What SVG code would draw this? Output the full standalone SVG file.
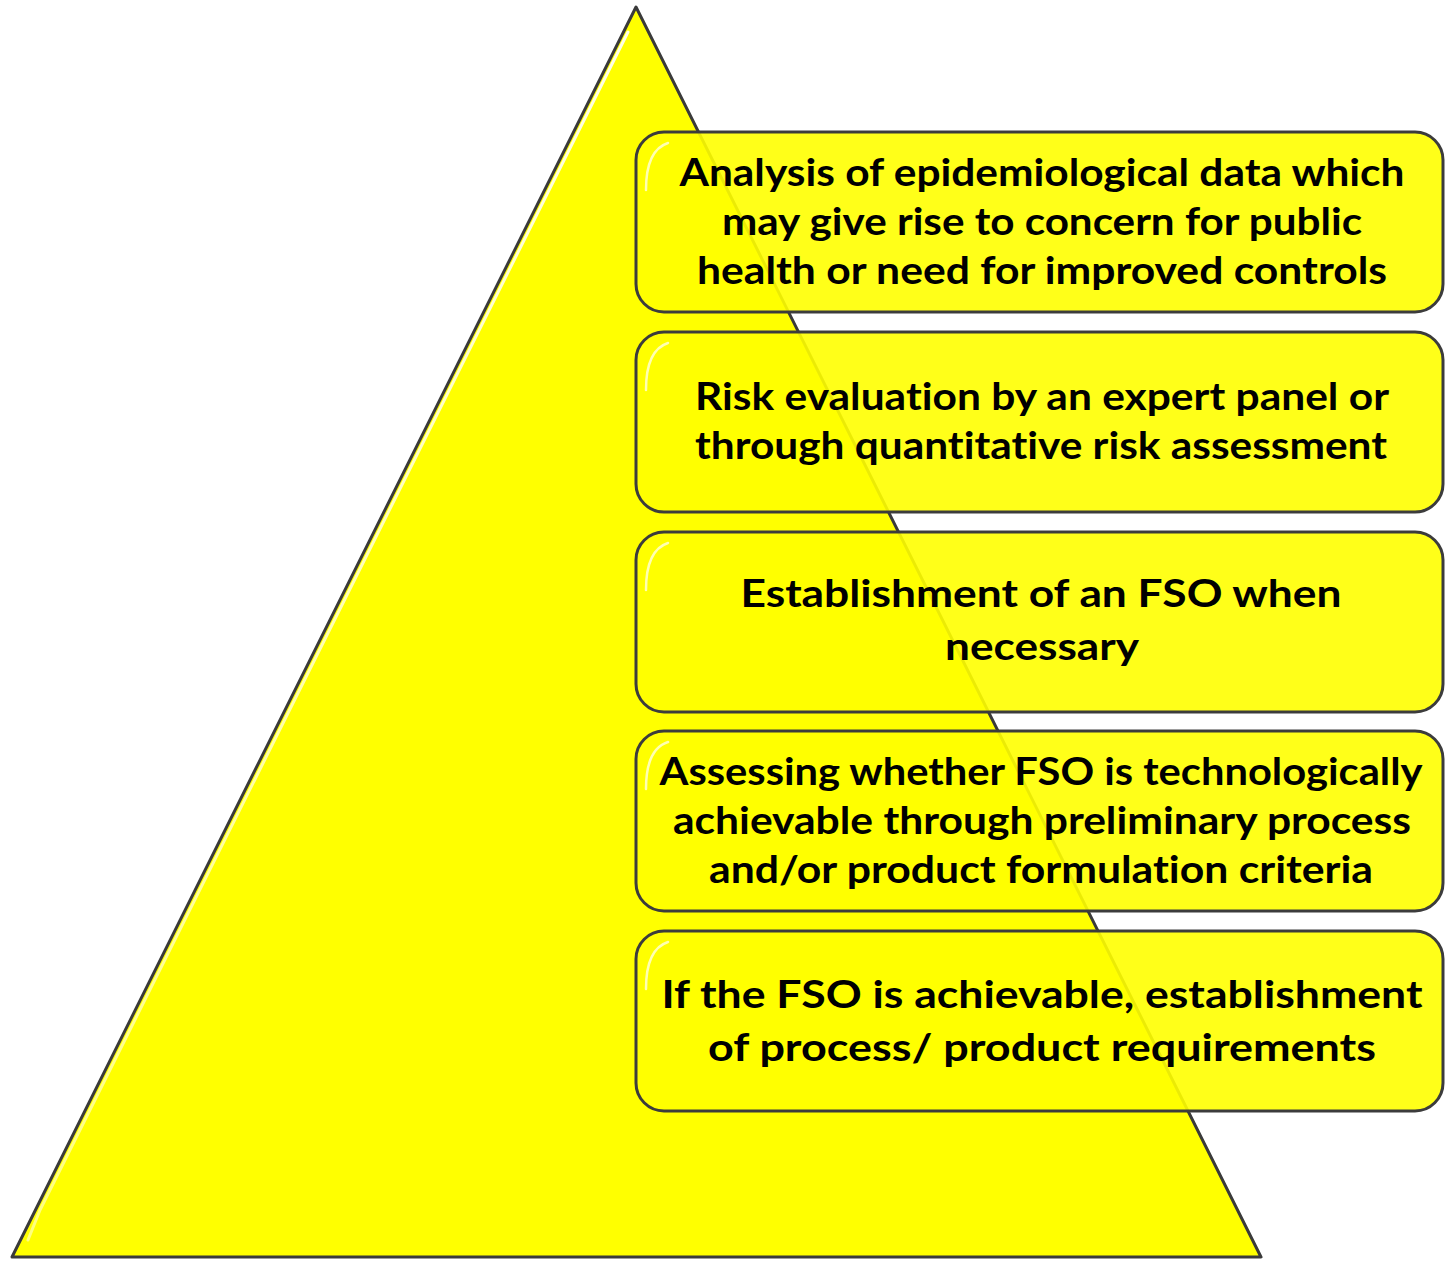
<svg xmlns="http://www.w3.org/2000/svg" width="1445" height="1261" viewBox="0 0 1445 1261">
<defs>
<linearGradient id="tg" x1="0" y1="0" x2="0" y2="1">
<stop offset="0" stop-color="#ffffff" stop-opacity="0.9"/>
<stop offset="1" stop-color="#ffffff" stop-opacity="0.5"/>
</linearGradient>
<style>
.box{fill:#ffff00;fill-opacity:0.9;stroke:#3c3c3c;stroke-width:3}
.hl{fill:none;stroke:#ffffff;stroke-opacity:0.7;stroke-width:2.5;stroke-linecap:round}
.t{font-family:Lato,"Open Sans","Liberation Sans",sans-serif;font-weight:bold;font-size:38px;fill:#000000;text-anchor:middle;font-variant-ligatures:none;font-feature-settings:"liga" 0,"clig" 0}
</style>
</defs>
<rect width="1445" height="1261" fill="#ffffff"/>
<g id="pyramid">
<polygon points="636,7 1261,1257 12,1257" fill="#ffff00" stroke="#3a3a3a" stroke-width="3" stroke-linejoin="round"/>
<polyline points="628,32 40,1210 28,1240" fill="none" stroke="url(#tg)" stroke-width="3" stroke-linecap="round"/>
</g>
<g id="box1">
<rect class="box" x="636" y="132" width="807" height="180" rx="28"/>
<path class="hl" d="M646,190 Q646,150 668,143"/>
<text class="t" x="1042" y="186" textLength="725" lengthAdjust="spacingAndGlyphs">Analysis of epidemiological data which</text>
<text class="t" x="1042" y="235" textLength="640" lengthAdjust="spacingAndGlyphs">may give rise to concern for public</text>
<text class="t" x="1042" y="284" textLength="690" lengthAdjust="spacingAndGlyphs">health or need for improved controls</text>
</g>
<g id="box2">
<rect class="box" x="636" y="332" width="807" height="180" rx="28"/>
<path class="hl" d="M646,390 Q646,350 668,343"/>
<text class="t" x="1042" y="410" textLength="694" lengthAdjust="spacingAndGlyphs">Risk evaluation by an expert panel or</text>
<text class="t" x="1041" y="459" textLength="692" lengthAdjust="spacingAndGlyphs">through quantitative risk assessment</text>
</g>
<g id="box3">
<rect class="box" x="636" y="532" width="807" height="180" rx="28"/>
<path class="hl" d="M646,590 Q646,550 668,543"/>
<text class="t" x="1041" y="607" textLength="601" lengthAdjust="spacingAndGlyphs">Establishment of an FSO when</text>
<text class="t" x="1042" y="660" textLength="194" lengthAdjust="spacingAndGlyphs">necessary</text>
</g>
<g id="box4">
<rect class="box" x="636" y="731" width="807" height="180" rx="28"/>
<path class="hl" d="M646,789 Q646,749 668,742"/>
<text class="t" x="1041" y="785" textLength="763" lengthAdjust="spacingAndGlyphs">Assessing whether FSO is technologically</text>
<text class="t" x="1042" y="834" textLength="738" lengthAdjust="spacingAndGlyphs">achievable through preliminary process</text>
<text class="t" x="1041" y="883" textLength="664" lengthAdjust="spacingAndGlyphs">and/or product formulation criteria</text>
</g>
<g id="box5">
<rect class="box" x="636" y="931" width="807" height="180" rx="28"/>
<path class="hl" d="M646,989 Q646,949 668,942"/>
<text class="t" x="1042" y="1008" textLength="761" lengthAdjust="spacingAndGlyphs">If the FSO is achievable, establishment</text>
<text class="t" x="1042" y="1061" textLength="668" lengthAdjust="spacingAndGlyphs">of process/ product requirements</text>
</g>
<g id="connectors"/>
</svg>
